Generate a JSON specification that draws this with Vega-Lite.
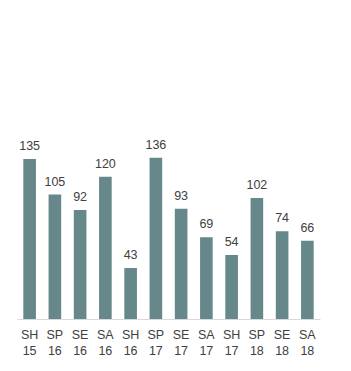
{
  "$schema": "https://vega.github.io/schema/vega-lite/v6.json",
  "width": 303,
  "height": 309,
  "autosize": {"type": "none"},
  "padding": {"left": 17, "top": 10, "right": 31, "bottom": 52},
  "background": "white",
  "data": {"values": [
    {"period": "SH 15", "value": 135},
    {"period": "SP 16", "value": 105},
    {"period": "SE 16", "value": 92},
    {"period": "SA 16", "value": 120},
    {"period": "SH 16", "value": 43},
    {"period": "SP 17", "value": 136},
    {"period": "SE 17", "value": 93},
    {"period": "SA 17", "value": 69},
    {"period": "SH 17", "value": 54},
    {"period": "SP 18", "value": 102},
    {"period": "SE 18", "value": 74},
    {"period": "SA 18", "value": 66}
  ]},
  "encoding": {
    "x": {
      "field": "period", "type": "nominal", "sort": null,
      "scale": {"paddingInner": 0.5, "paddingOuter": 0.25},
      "axis": {
        "title": null, "labelAngle": 0, "ticks": false,
        "domainColor": "#d9d9d9", "domainWidth": 1,
        "labelExpr": "split(datum.label, ' ')",
        "labelFont": "Liberation Sans", "labelFontSize": 12.5,
        "labelColor": "#404040", "labelPadding": 9, "labelLineHeight": 16
      }
    },
    "y": {
      "field": "value", "type": "quantitative",
      "scale": {"domain": [0, 260.7]},
      "axis": null
    }
  },
  "layer": [
    {"mark": {"type": "bar", "color": "#66888a"}},
    {
      "mark": {"type": "text", "baseline": "alphabetic", "dy": -9, "font": "Liberation Sans", "fontSize": 12.5, "color": "#404040"},
      "encoding": {"text": {"field": "value", "type": "quantitative"}}
    }
  ],
  "config": {"view": {"stroke": null}}
}
